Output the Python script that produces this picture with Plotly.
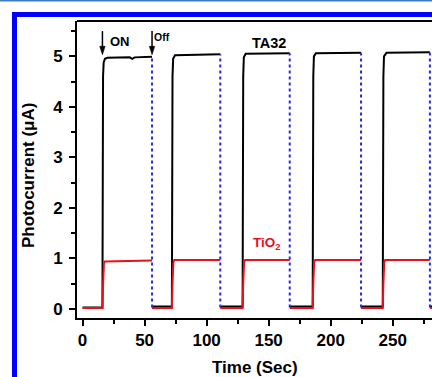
import plotly.graph_objects as go

# ---- data ----
ta32_t = [0, 16, 16.5, 17, 18, 20, 38, 40, 42, 56, None,
          56, 72, 72.5, 73, 74.5, 111, None,
          111, 129, 129.5, 130, 131.5, 167, None,
          167, 185.5, 186, 186.5, 188, 224.5, None,
          224.5, 242, 242.5, 243, 245, 280, None,
          280, 295]
ta32_i = [0.03, 0.03, 4.6, 4.88, 4.95, 4.97, 4.98, 4.95, 4.98, 4.99, None,
          0.05, 0.05, 4.6, 4.95, 5.02, 5.04, None,
          0.05, 0.05, 4.6, 4.98, 5.05, 5.06, None,
          0.05, 0.05, 4.6, 5.0, 5.06, 5.07, None,
          0.05, 0.05, 4.6, 5.0, 5.07, 5.08, None,
          0.05, 0.05]
tio2_t = [0, 16, 16.4, 17.2, 18, 56, None,
          56, 72, 72.5, 73.2, 74, 111, None,
          111, 129, 129.5, 130.2, 131, 167, None,
          167, 185.5, 186, 186.7, 187.5, 224.5, None,
          224.5, 242, 242.5, 243.2, 244, 280, None,
          280, 295]
tio2_i = [0.02, 0.02, 0.4, 0.9, 0.94, 0.96, None,
          0.02, 0.02, 0.5, 0.92, 0.97, 0.97, None,
          0.02, 0.02, 0.5, 0.92, 0.97, 0.97, None,
          0.02, 0.02, 0.5, 0.92, 0.97, 0.97, None,
          0.02, 0.02, 0.5, 0.92, 0.97, 0.97, None,
          0.02, 0.02]
off_times = [56, 111, 167, 224.5, 280]
off_tops = [4.99, 5.04, 5.06, 5.07, 5.08]

x_ticks = [0, 50, 100, 150, 200, 250]
y_ticks = [0, 1, 2, 3, 4, 5]

# arrow markers (ON / Off), in data units
arrow_x = [16, 56]
arrow_tip = 5.03
arrow_tail = 5.5

L, T, B = 77, 21, 59
W, H = 432, 377
PW, PH = W - L, H - T - B

def px(x):
    return (x - L) / PW

def py(y):
    return (H - B - y) / PH

fig = go.Figure()
fig.add_trace(go.Scatter(x=ta32_t, y=ta32_i, mode="lines",
                         line=dict(color="black", width=2), connectgaps=False,
                         showlegend=False, hoverinfo="skip"))
fig.add_trace(go.Scatter(x=tio2_t, y=tio2_i, mode="lines",
                         line=dict(color="#e8101a", width=2), connectgaps=False,
                         showlegend=False, hoverinfo="skip"))

shapes = []
for t, top in zip(off_times, off_tops):
    shapes.append(dict(type="line", xref="x", yref="y", x0=t, x1=t, y0=0.03, y1=top,
                       line=dict(color="#2a2ae0", width=2, dash="dot")))
for ax_ in arrow_x:
    shapes.append(dict(type="line", xref="x", yref="y", x0=ax_, x1=ax_,
                       y0=arrow_tail, y1=arrow_tip + 0.12,
                       line=dict(color="black", width=1.5)))
    shapes.append(dict(type="path", xref="x", yref="y",
                       path=f"M {ax_ - 2.2} {arrow_tip + 0.17} L {ax_ + 2.2} {arrow_tip + 0.17} L {ax_} {arrow_tip} Z",
                       fillcolor="black", line=dict(color="black", width=0.5)))
# top frame line
shapes.append(dict(type="line", xref="paper", yref="paper", x0=0, x1=1.02, y0=1, y1=1,
                   line=dict(color="black", width=2)))
# blue journal border
shapes.append(dict(type="rect", xref="paper", yref="paper", x0=px(12), x1=px(17),
                   y0=py(12), y1=py(400), fillcolor="#0000ff", line=dict(width=0), layer="above"))
shapes.append(dict(type="rect", xref="paper", yref="paper", x0=px(12), x1=px(440),
                   y0=py(12), y1=py(17), fillcolor="#0000ff", line=dict(width=0), layer="above"))
shapes.append(dict(type="rect", xref="paper", yref="paper", x0=px(-5), x1=px(440),
                   y0=py(-2), y1=py(1.5), fillcolor="#3c7cc4", line=dict(width=0), layer="above"))

F = "Arial, Liberation Sans, sans-serif"
annotations = [
    dict(x=30, y=5.29, xref="x", yref="y", text="ON", showarrow=False,
         xanchor="center", yanchor="middle",
         font=dict(family=F, size=13, color="black", weight="bold")),
    dict(x=64, y=5.38, xref="x", yref="y", text="Off", showarrow=False,
         xanchor="center", yanchor="middle",
         font=dict(family=F, size=10.5, color="black", weight="bold")),
    dict(x=150.5, y=5.27, xref="x", yref="y", text="TA32", showarrow=False,
         xanchor="center", yanchor="middle",
         font=dict(family=F, size=14.5, color="black", weight="bold")),
    dict(x=148.5, y=1.3, xref="x", yref="y", text="TiO<sub>2</sub>", showarrow=False,
         xanchor="center", yanchor="middle",
         font=dict(family=F, size=13.5, color="#e8101a", weight="bold")),
    dict(x=px(255), y=py(367), xref="paper", yref="paper", text="Time (Sec)", showarrow=False,
         xanchor="center", yanchor="middle",
         font=dict(family=F, size=17, color="black", weight="bold")),
    dict(x=px(28), y=py(175), xref="paper", yref="paper", text="Photocurrent (\u03bcA)",
         textangle=-90, showarrow=False, xanchor="center", yanchor="middle",
         font=dict(family=F, size=17, color="black", weight="bold")),
]

fig.update_layout(
    width=W, height=H,
    margin=dict(l=L, r=0, t=T, b=B, pad=0),
    paper_bgcolor="white", plot_bgcolor="white",
    shapes=shapes, annotations=annotations,
    xaxis=dict(range=[-4.5, 281.7], tickvals=x_ticks, ticks="outside", ticklen=6, tickwidth=2,
               tickcolor="black", showline=True, linecolor="black", linewidth=2,
               showgrid=False, zeroline=False,
               minor=dict(dtick=25, tick0=0, ticks="outside", ticklen=4, tickwidth=2, tickcolor="black"),
               tickfont=dict(family=F, size=17, color="black", weight="bold")),
    yaxis=dict(range=[-0.18, 5.7], tickvals=y_ticks, ticks="outside", ticklen=6, tickwidth=2,
               tickcolor="black", showline=True, linecolor="black", linewidth=2,
               showgrid=False, zeroline=False, ticklabelstandoff=3,
               minor=dict(dtick=0.5, tick0=0, ticks="outside", ticklen=4, tickwidth=2, tickcolor="black"),
               tickfont=dict(family=F, size=17, color="black", weight="bold")),
)

fig.write_html("out.html", config={"displayModeBar": False})
